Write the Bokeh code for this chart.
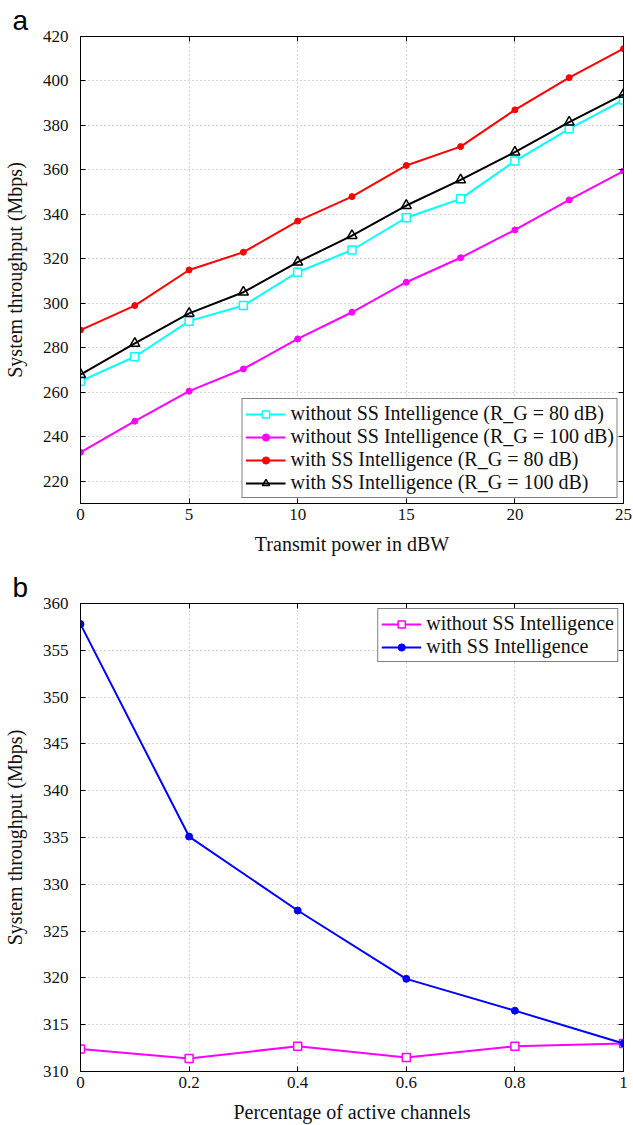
from bokeh.plotting import figure
from bokeh.models import (Range1d, LinearAxis, FixedTicker, Legend, LegendItem, Title)
from bokeh.layouts import column
from bokeh.embed import file_html
from bokeh.resources import INLINE

# ---- data: panel a ----
power_dbw = [0, 2.5, 5, 7.5, 10, 12.5, 15, 17.5, 20, 22.5, 25]
wo_rg80 = [265, 276, 292, 299, 314, 324, 338.5, 347, 364, 378.5, 391.5]
wo_rg100 = [233, 247, 260.5, 270.5, 284, 296, 309.5, 320.5, 333, 346.5, 359.5]
w_rg80 = [288, 299, 315, 323, 337, 348, 362, 370.5, 387, 401.5, 414.5]
w_rg100 = [268, 282, 295.5, 305, 318.5, 330.5, 344, 355.5, 368, 381.5, 394]
labels_a = ["without SS Intelligence (R_G = 80 dB)",
            "without SS Intelligence (R_G = 100 dB)",
            "with SS Intelligence (R_G = 80 dB)",
            "with SS Intelligence (R_G = 100 dB)"]
xticks_a = [0, 5, 10, 15, 20, 25]
yticks_a = [220, 240, 260, 280, 300, 320, 340, 360, 380, 400, 420]

# ---- data: panel b ----
active_frac = [0, 0.2, 0.4, 0.6, 0.8, 1.0]
wo_ss = [312.4, 311.4, 312.7, 311.5, 312.7, 313.0]
w_ss = [357.8, 335.1, 327.2, 319.9, 316.5, 313.0]
labels_b = ["without SS Intelligence", "with SS Intelligence"]
xticks_b = [0, 0.2, 0.4, 0.6, 0.8, 1]
yticks_b = [310, 315, 320, 325, 330, 335, 340, 345, 350, 355, 360]

SERIF = "Liberation Serif"
TICK_FS = "17px"
LABEL_FS = "20px"
LEGEND_FS = "20px"


def style(p, xt, yt, xlabel, ylabel):
    p.outline_line_color = "black"
    p.outline_line_width = 1
    p.xaxis.ticker = FixedTicker(ticks=xt)
    p.yaxis.ticker = FixedTicker(ticks=yt)
    p.xaxis.axis_label = xlabel
    p.yaxis.axis_label = ylabel
    for ax in [p.xaxis[0], p.yaxis[0]]:
        ax.axis_label_text_font = SERIF
        ax.axis_label_text_font_style = "normal"
        ax.axis_label_text_font_size = LABEL_FS
        ax.major_label_text_font = SERIF
        ax.major_label_text_font_size = TICK_FS
        ax.major_tick_in = 5
        ax.major_tick_out = 0
        ax.minor_tick_in = 0
        ax.minor_tick_out = 0
        ax.axis_line_color = "black"
        ax.major_tick_line_color = "black"
        ax.major_label_text_color = "#111111"
        ax.axis_label_text_color = "#111111"
    p.xaxis.axis_label_standoff = 10
    p.yaxis.axis_label_standoff = 14
    p.xaxis.major_label_standoff = 5
    p.yaxis.major_label_standoff = 12
    for loc, tk in (("above", xt), ("right", yt)):
        ax = LinearAxis(ticker=FixedTicker(ticks=tk))
        ax.major_label_text_font_size = "0px"
        ax.major_label_standoff = 0
        ax.major_tick_in = 5
        ax.major_tick_out = 0
        ax.minor_tick_in = 0
        ax.minor_tick_out = 0
        ax.axis_line_color = "black"
        ax.major_tick_line_color = "black"
        p.add_layout(ax, loc)
    p.grid.grid_line_color = "#a8a8a8"
    p.grid.grid_line_dash = "1 3"
    p.grid.grid_line_width = 1
    p.xgrid.ticker = FixedTicker(ticks=xt)
    p.ygrid.ticker = FixedTicker(ticks=yt)


def legend_style(lg):
    lg.label_text_font = SERIF
    lg.label_text_font_size = LEGEND_FS
    lg.label_text_line_height = 1.0
    lg.label_text_color = "#111111"
    lg.border_line_color = "black"
    lg.border_line_width = 1
    lg.background_fill_color = "white"
    lg.background_fill_alpha = 1
    lg.glyph_width = 40
    lg.glyph_height = 18
    lg.label_height = 18
    lg.spacing = -3
    lg.padding = 3
    lg.label_standoff = 5
    lg.margin = 5


def panel_title(p, letter):
    t = Title(text=letter, align="left", offset=-68, standoff=2,
              text_font="Liberation Sans", text_font_size="28px",
              text_font_style="normal", text_color="black")
    p.title = t


H1 = 558
H2 = 567

# ---------------- Panel a ----------------
pa = figure(width=633, height=H1, output_backend="svg", toolbar_location=None,
            x_range=Range1d(0, 25), y_range=Range1d(210, 420),
            min_border_left=80, min_border_right=10, min_border_top=36, min_border_bottom=55)
style(pa, xticks_a, yticks_a, "Transmit power in dBW", "System throughput (Mbps)")
panel_title(pa, "a")

r1l = pa.line(power_dbw, wo_rg80, line_color="cyan", line_width=2)
r1m = pa.scatter(power_dbw, wo_rg80, marker="square", size=8, line_color="cyan", fill_color="white", line_width=1.5)
r2l = pa.line(power_dbw, wo_rg100, line_color="magenta", line_width=2)
r2m = pa.scatter(power_dbw, wo_rg100, marker="circle", size=6, line_color="magenta", fill_color="magenta")
r3l = pa.line(power_dbw, w_rg80, line_color="red", line_width=2)
r3m = pa.scatter(power_dbw, w_rg80, marker="circle", size=6, line_color="red", fill_color="red")
r4l = pa.line(power_dbw, w_rg100, line_color="black", line_width=2)
r4m = pa.scatter(power_dbw, w_rg100, marker="triangle", size=10, line_color="black", fill_color=None, line_width=1.5)

lga = Legend(items=[LegendItem(label=labels_a[0], renderers=[r1l, r1m]),
                    LegendItem(label=labels_a[1], renderers=[r2l, r2m]),
                    LegendItem(label=labels_a[2], renderers=[r3l, r3m]),
                    LegendItem(label=labels_a[3], renderers=[r4l, r4m])],
             location="bottom_right")
legend_style(lga)
pa.add_layout(lga)

# ---------------- Panel b ----------------
pb = figure(width=633, height=H2, output_backend="svg", toolbar_location=None,
            x_range=Range1d(0, 1), y_range=Range1d(310, 360),
            min_border_left=80, min_border_right=10, min_border_top=45, min_border_bottom=54)
style(pb, xticks_b, yticks_b, "Percentage of active channels", "System throughput (Mbps)")
panel_title(pb, "b")

s1l = pb.line(active_frac, wo_ss, line_color="magenta", line_width=2)
s1m = pb.scatter(active_frac, wo_ss, marker="square", size=8, line_color="magenta", fill_color="white", line_width=1.5)
s2l = pb.line(active_frac, w_ss, line_color="blue", line_width=2)
s2m = pb.scatter(active_frac, w_ss, marker="circle", size=7, line_color="blue", fill_color="blue")

lgb = Legend(items=[LegendItem(label=labels_b[0], renderers=[s1l, s1m]),
                    LegendItem(label=labels_b[1], renderers=[s2l, s2m])],
             location="top_right")
legend_style(lgb)
pb.add_layout(lgb)

layout = column(pa, pb, spacing=0)
open("out.html", "w").write(file_html(layout, INLINE))
